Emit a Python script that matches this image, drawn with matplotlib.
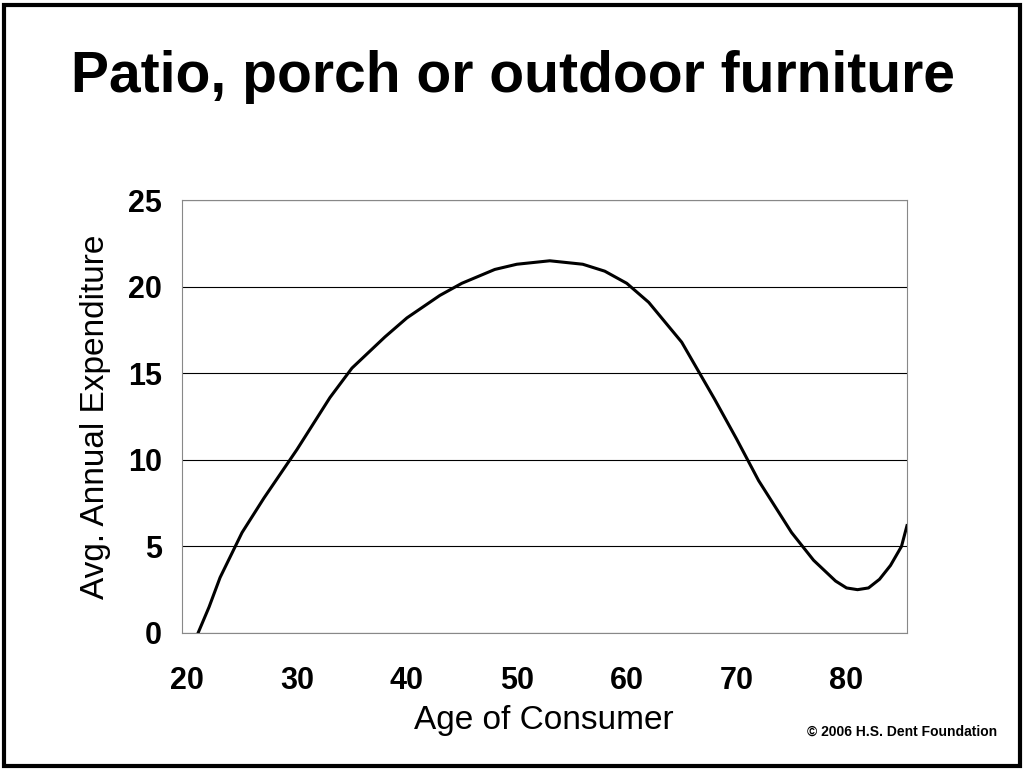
import matplotlib.pyplot as plt
from matplotlib.patches import Rectangle

plt.rc('font', family='Liberation Sans')

ages = [21, 22, 23, 25, 27, 30, 33, 35, 38, 40, 43, 45, 48, 50, 53, 56, 58, 60, 62, 65, 68, 70,
        72, 75, 77, 79, 80, 81, 82, 83, 84, 85, 85.5]
spend = [0, 1.5, 3.2, 5.8, 7.8, 10.6, 13.6, 15.3, 17.1, 18.2, 19.5, 20.2, 21.0, 21.3, 21.5, 21.3,
         20.9, 20.2, 19.1, 16.8, 13.5, 11.2, 8.8, 5.8, 4.2, 3.0, 2.6, 2.5, 2.6, 3.1, 3.9, 5.0, 6.2]

fig = plt.figure(figsize=(10.26, 7.7), dpi=100)
fig.patches.append(Rectangle((0.004, 0.005), 0.99, 0.988, transform=fig.transFigure,
                             fill=False, lw=3, ec='black'))
fig.text(0.5, 0.9, 'Patio, porch or outdoor furniture', ha='center', va='center',
         fontsize=41, fontweight='bold')

ax = fig.add_axes([0.177, 0.178, 0.707, 0.562])
ax.plot(ages, spend, color='black', lw=2.2)
ax.set_xlim(19.5, 85.5)
ax.set_ylim(0, 25)
ax.set_xticks(range(20, 90, 10))
ax.set_yticks(range(0, 30, 5))
ax.yaxis.grid(True, color='black', lw=0.8)
ax.tick_params(labelsize=22, length=0)
ax.tick_params(axis='x', pad=24)
ax.tick_params(axis='y', pad=14)
for lab in ax.get_xticklabels() + ax.get_yticklabels():
    lab.set_fontweight('bold')
ax.set_xlabel('Age of Consumer', fontsize=24, labelpad=6)
ax.set_ylabel('Avg. Annual Expenditure', fontsize=24, labelpad=12)
for s in ax.spines.values():
    s.set_color('#888888')
    s.set_linewidth(0.8)

fig.text(0.972, 0.045, '© 2006 H.S. Dent Foundation', ha='right', fontsize=10, fontweight='bold')
fig.savefig('out.png')
